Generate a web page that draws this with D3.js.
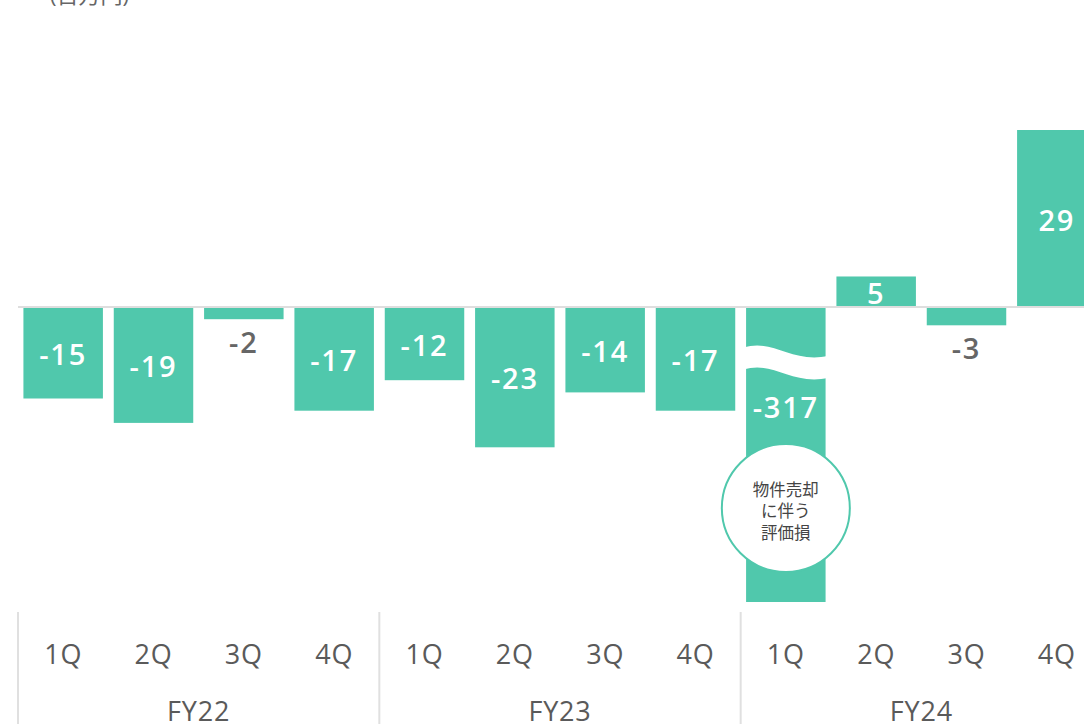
<!DOCTYPE html>
<html>
<head>
<meta charset="utf-8">
<script src="https://cdn.jsdelivr.net/npm/d3@7"></script>
<style>
  html, body { margin: 0; padding: 0; background: #fff; }
  svg { display: block; }
  text { font-family: "Open Sans", "Noto Sans CJK JP", sans-serif; }
</style>
</head>
<body>
<svg id="chart" width="1084" height="724"></svg>
<script>
// Quarterly values (百万円)
const fiscalYears = ["FY22", "FY23", "FY24"];
const quarters = ["1Q", "2Q", "3Q", "4Q"];
const values = [-15, -19, -2, -17, -12, -23, -14, -17, -317, 5, -3, 29];
const unitLabel = "(百万円)";
const noteLines = ["物件売却", "に伴う", "評価損"];
const noteIndex = 8;

const color = "#50c8ac";
const svg = d3.select("#chart");

const rows = values.map((v, i) => ({
  id: fiscalYears[Math.floor(i / 4)] + "-" + quarters[i % 4],
  fy: fiscalYears[Math.floor(i / 4)],
  q: quarters[i % 4],
  v, i
}));

const x = d3.scaleBand()
  .domain(rows.map(d => d.id))
  .range([18, 1102])
  .paddingInner(0.12)
  .paddingOuter(0.06);

// broken value axis: linear near zero, compressed below -40
const y = d3.scaleLinear()
  .domain([-317, -40, 0, 29])
  .range([602, 551, 307, 130]);

// unit label
svg.append("text")
  .attr("x", 50).attr("y", 3)
  .attr("font-size", 22).attr("fill", "#666")
  .attr("font-family", "'Noto Sans CJK JP', sans-serif")
  .text(unitLabel);

// bars
svg.append("g").selectAll("rect")
  .data(rows)
  .join("rect")
  .attr("x", d => x(d.id))
  .attr("width", x.bandwidth())
  .attr("y", d => Math.min(y(d.v), y(0)))
  .attr("height", d => Math.abs(y(d.v) - y(0)))
  .attr("fill", color);

// wavy break across the truncated bar
const big = rows[noteIndex];
const bx0 = x(big.id) - 3, bx1 = x(big.id) + x.bandwidth() + 3;
const wTop = y(-6.7);
svg.append("path")
  .attr("d", `M${bx0},${wTop} C${bx0 + 30},${wTop - 10} ${bx0 + 48},${wTop + 16} ${bx1},${wTop + 8}
              L${bx1},${wTop + 30} C${bx0 + 48},${wTop + 38} ${bx0 + 30},${wTop + 12} ${bx0},${wTop + 22} Z`)
  .attr("fill", "#fff");

// zero line
svg.append("line")
  .attr("x1", 18).attr("x2", 1084)
  .attr("y1", y(0)).attr("y2", y(0))
  .attr("stroke", "#dedede").attr("stroke-width", 2);

// value labels
svg.append("g").selectAll("text")
  .data(rows)
  .join("text")
  .attr("x", d => x(d.id) + x.bandwidth() / 2)
  .attr("y", d => {
    if (d.i === noteIndex) return wTop + 60;
    if (Math.abs(d.v) < 4) return y(d.v) + 24;
    return (y(d.v) + y(0)) / 2 + 2;
  })
  .attr("dy", "0.35em")
  .attr("text-anchor", "middle")
  .attr("font-size", 29)
  .attr("font-weight", 600)
  .attr("letter-spacing", 1.8)
  .attr("fill", d => Math.abs(d.v) < 4 && d.v < 0 ? "#666" : "#fff")
  .text(d => d.v);

// annotation bubble
const cx = x(big.id) + x.bandwidth() / 2;
const cy = 508;
svg.append("circle")
  .attr("cx", cx).attr("cy", cy).attr("r", 64)
  .attr("fill", "#fff").attr("stroke", color).attr("stroke-width", 2);
svg.append("g").selectAll("text")
  .data(noteLines)
  .join("text")
  .attr("x", cx)
  .attr("y", (d, i) => cy - 18 + i * 21.5)
  .attr("dy", "0.35em")
  .attr("text-anchor", "middle")
  .attr("font-size", 16.5)
  .attr("font-family", "'Noto Sans CJK JP', sans-serif")
  .attr("fill", "#444")
  .text(d => d);

// category axis
const step = x.step();
const groupStart = fy => x(fy + "-1Q") - x.paddingInner() * step / 2;
svg.append("g").selectAll("line")
  .data(fiscalYears)
  .join("line")
  .attr("x1", d => groupStart(d)).attr("x2", d => groupStart(d))
  .attr("y1", 612).attr("y2", 724)
  .attr("stroke", "#e0e0e0").attr("stroke-width", 2);

svg.append("g").selectAll("text")
  .data(rows)
  .join("text")
  .attr("x", d => x(d.id) + x.bandwidth() / 2)
  .attr("y", 664)
  .attr("text-anchor", "middle")
  .attr("font-size", 27)
  .attr("letter-spacing", 0.8)
  .attr("fill", "#5a5a5a")
  .text(d => d.q);

svg.append("g").selectAll("text")
  .data(fiscalYears)
  .join("text")
  .attr("x", d => groupStart(d) + step * 2)
  .attr("y", 721)
  .attr("text-anchor", "middle")
  .attr("font-size", 27)
  .attr("letter-spacing", 0.8)
  .attr("fill", "#5a5a5a")
  .text(d => d);
</script>
</body>
</html>
